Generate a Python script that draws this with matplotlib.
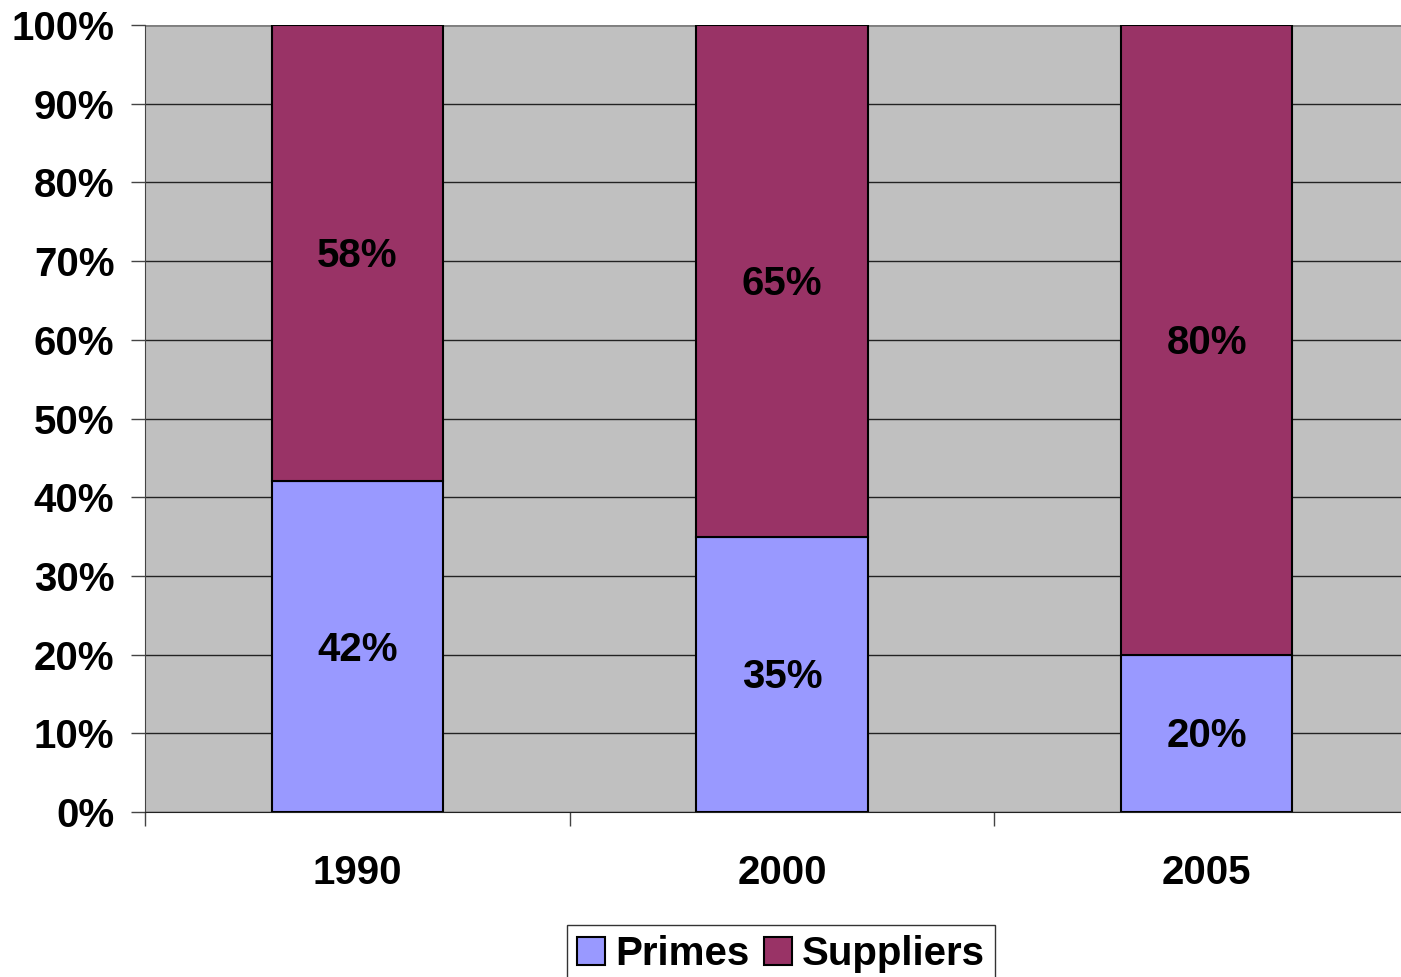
import matplotlib.pyplot as plt
import numpy as np

# 数据
YEARS = ['1990', '2000', '2005']
PRIMES = [42, 35, 20]
SUPPLIERS = [58, 65, 80]

plt.rcParams['font.family'] = ['Liberation Sans', 'DejaVu Sans']
plt.rcParams['font.weight'] = 'bold'

FS = 29


def main():
    fig = plt.figure(figsize=(14.01, 9.77), dpi=100)
    # 右边被裁掉一点，所以宽度超出画布
    ax = fig.add_axes([145 / 1401, 1 - 812 / 977, 1274 / 1401, (812 - 25) / 977])
    ax.set_facecolor('#C0C0C0')

    x = np.arange(len(YEARS))
    w = 0.403
    ax.bar(x, PRIMES, w, color='#9999FF', edgecolor='black', linewidth=1.5,
           label='Primes', zorder=3)
    ax.bar(x, SUPPLIERS, w, bottom=PRIMES, color='#993366', edgecolor='black',
           linewidth=1.5, label='Suppliers', zorder=3)

    # 数值标签
    for i in range(len(YEARS)):
        ax.text(x[i], PRIMES[i] / 2 - 0.4, '{}%'.format(PRIMES[i]), ha='center',
                va='center', fontsize=FS, fontweight='bold', zorder=4)
        ax.text(x[i], PRIMES[i] + SUPPLIERS[i] / 2 - 0.4, '{}%'.format(SUPPLIERS[i]),
                ha='center', va='center', fontsize=FS, fontweight='bold', zorder=4)

    ax.set_xlim(-0.5, len(YEARS) - 0.5)
    ax.set_ylim(0, 100)
    ax.set_yticks(range(0, 101, 10))
    ax.set_yticklabels(['{}%'.format(v) for v in range(0, 101, 10)], fontsize=FS,
                       fontweight='bold')
    ax.grid(axis='y', color='#222222', linewidth=1, zorder=1)
    ax.set_axisbelow(True)

    ax.set_xticks(x)
    ax.set_xticklabels(YEARS, fontsize=FS, fontweight='bold')
    ax.tick_params(axis='x', length=0, pad=30)
    ax.set_xticks(np.arange(-0.5, len(YEARS), 1), minor=True)
    ax.tick_params(axis='x', which='minor', length=10, color='#444444', width=1)
    ax.tick_params(axis='y', length=10, color='#444444', width=1, pad=12)

    for s in ['top', 'right']:
        ax.spines[s].set_visible(False)
    ax.spines['left'].set_color('#444444')
    ax.spines['bottom'].set_color('#222222')
    ax.axhline(100, color='#808080', linewidth=2, zorder=2)

    leg = fig.legend(loc='upper center', bbox_to_anchor=(781 / 1401, 1 - 925 / 977),
                     ncol=2, fontsize=FS, frameon=True, fancybox=False,
                     edgecolor='black', handlelength=0.7, handleheight=0.7,
                     handletextpad=0.25, columnspacing=0.35, borderpad=0.25,
                     borderaxespad=0)
    leg.get_frame().set_linewidth(1)
    plt.savefig('out.png', dpi=100)


if __name__ == '__main__':
    main()
